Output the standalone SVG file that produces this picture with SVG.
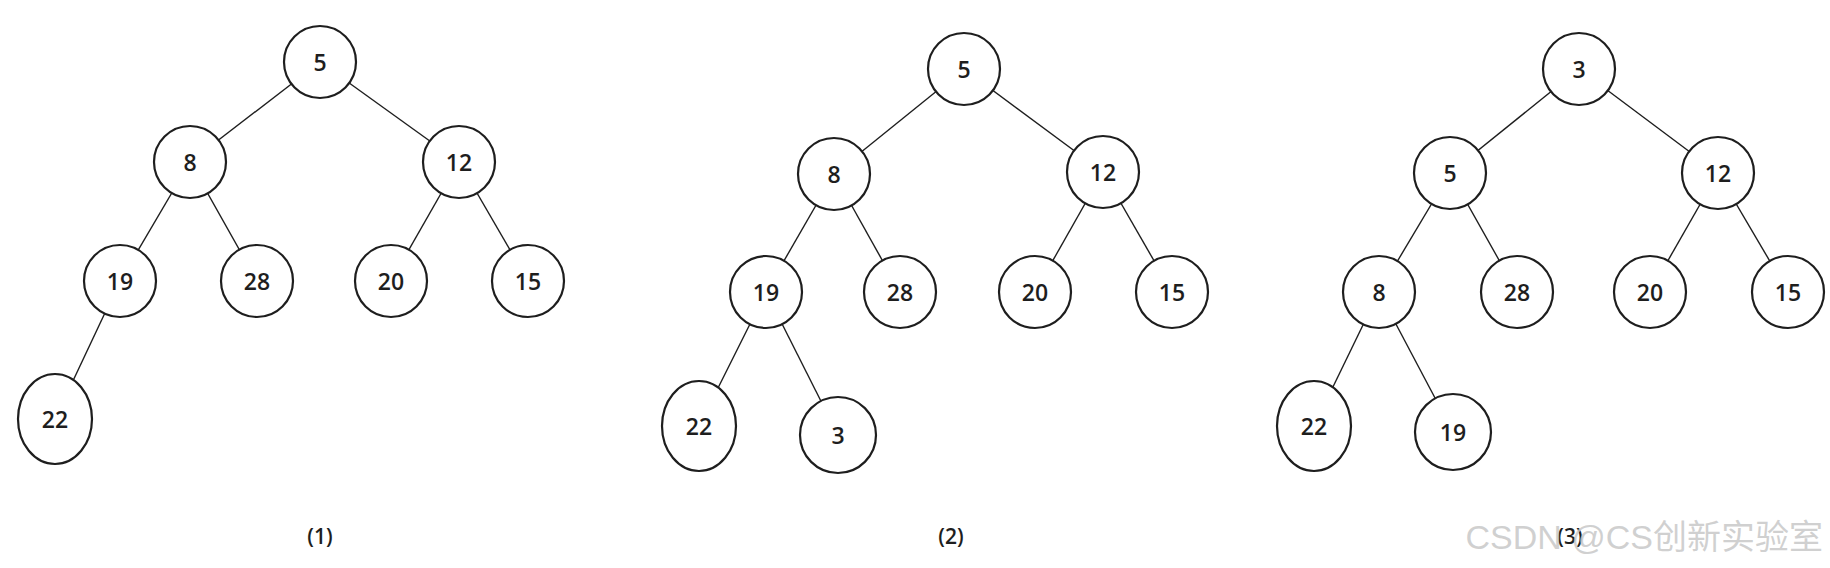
<svg xmlns="http://www.w3.org/2000/svg" width="1830" height="568" viewBox="0 0 1830 568">
<style>
.n circle, .n ellipse { fill: #fff; stroke: #1e1e1e; stroke-width: 2.2; }
.n text { font-family: "Open Sans", "Liberation Sans", sans-serif; font-size: 23px; font-weight: 600; fill: #1e1e1e; text-anchor: middle; dominant-baseline: central; }
.e line { stroke: #1e1e1e; stroke-width: 1.4; }
.cap { font-family: "Open Sans", "Liberation Sans", sans-serif; font-size: 21px; font-weight: 600; fill: #1e1e1e; text-anchor: middle; }
.wm { font-family: "Liberation Sans", "Noto Sans CJK SC", sans-serif; font-size: 34px; fill: #c8c8c8; fill-opacity: 0.85; text-anchor: end; }
</style>
<rect width="1830" height="568" fill="#fff"/>
<g id="connectors" class="e">
  <line x1="320" y1="62" x2="190" y2="162"/>
  <line x1="320" y1="62" x2="459" y2="162"/>
  <line x1="190" y1="162" x2="120" y2="281"/>
  <line x1="190" y1="162" x2="257" y2="281"/>
  <line x1="459" y1="162" x2="391" y2="281"/>
  <line x1="459" y1="162" x2="528" y2="281"/>
  <line x1="120" y1="281" x2="55" y2="419"/>
  <line x1="964" y1="69" x2="834" y2="174"/>
  <line x1="964" y1="69" x2="1103" y2="172"/>
  <line x1="834" y1="174" x2="766" y2="292"/>
  <line x1="834" y1="174" x2="900" y2="292"/>
  <line x1="1103" y1="172" x2="1035" y2="292"/>
  <line x1="1103" y1="172" x2="1172" y2="292"/>
  <line x1="766" y1="292" x2="699" y2="426"/>
  <line x1="766" y1="292" x2="838" y2="435"/>
  <line x1="1579" y1="69" x2="1450" y2="173"/>
  <line x1="1579" y1="69" x2="1718" y2="173"/>
  <line x1="1450" y1="173" x2="1379" y2="292"/>
  <line x1="1450" y1="173" x2="1517" y2="292"/>
  <line x1="1718" y1="173" x2="1650" y2="292"/>
  <line x1="1718" y1="173" x2="1788" y2="292"/>
  <line x1="1379" y1="292" x2="1314" y2="426"/>
  <line x1="1379" y1="292" x2="1453" y2="432"/>
</g>
<g id="p1-n5" class="n"><circle cx="320" cy="62" r="36"/><text x="320" y="62">5</text></g>
<g id="p1-n8" class="n"><circle cx="190" cy="162" r="36"/><text x="190" y="162">8</text></g>
<g id="p1-n12" class="n"><circle cx="459" cy="162" r="36"/><text x="459" y="162">12</text></g>
<g id="p1-n19" class="n"><circle cx="120" cy="281" r="36"/><text x="120" y="281">19</text></g>
<g id="p1-n28" class="n"><circle cx="257" cy="281" r="36"/><text x="257" y="281">28</text></g>
<g id="p1-n20" class="n"><circle cx="391" cy="281" r="36"/><text x="391" y="281">20</text></g>
<g id="p1-n15" class="n"><circle cx="528" cy="281" r="36"/><text x="528" y="281">15</text></g>
<g id="p1-n22" class="n"><ellipse cx="55" cy="419" rx="37" ry="45"/><text x="55" y="419">22</text></g>
<g id="p2-n5" class="n"><circle cx="964" cy="69" r="36"/><text x="964" y="69">5</text></g>
<g id="p2-n8" class="n"><circle cx="834" cy="174" r="36"/><text x="834" y="174">8</text></g>
<g id="p2-n12" class="n"><circle cx="1103" cy="172" r="36"/><text x="1103" y="172">12</text></g>
<g id="p2-n19" class="n"><circle cx="766" cy="292" r="36"/><text x="766" y="292">19</text></g>
<g id="p2-n28" class="n"><circle cx="900" cy="292" r="36"/><text x="900" y="292">28</text></g>
<g id="p2-n20" class="n"><circle cx="1035" cy="292" r="36"/><text x="1035" y="292">20</text></g>
<g id="p2-n15" class="n"><circle cx="1172" cy="292" r="36"/><text x="1172" y="292">15</text></g>
<g id="p2-n22" class="n"><ellipse cx="699" cy="426" rx="37" ry="45"/><text x="699" y="426">22</text></g>
<g id="p2-n3" class="n"><circle cx="838" cy="435" r="38"/><text x="838" y="435">3</text></g>
<g id="p3-n3" class="n"><circle cx="1579" cy="69" r="36"/><text x="1579" y="69">3</text></g>
<g id="p3-n5" class="n"><circle cx="1450" cy="173" r="36"/><text x="1450" y="173">5</text></g>
<g id="p3-n12" class="n"><circle cx="1718" cy="173" r="36"/><text x="1718" y="173">12</text></g>
<g id="p3-n8" class="n"><circle cx="1379" cy="292" r="36"/><text x="1379" y="292">8</text></g>
<g id="p3-n28" class="n"><circle cx="1517" cy="292" r="36"/><text x="1517" y="292">28</text></g>
<g id="p3-n20" class="n"><circle cx="1650" cy="292" r="36"/><text x="1650" y="292">20</text></g>
<g id="p3-n15" class="n"><circle cx="1788" cy="292" r="36"/><text x="1788" y="292">15</text></g>
<g id="p3-n22" class="n"><ellipse cx="1314" cy="426" rx="37" ry="45"/><text x="1314" y="426">22</text></g>
<g id="p3-n19" class="n"><circle cx="1453" cy="432" r="38"/><text x="1453" y="432">19</text></g>
<text class="cap" x="320" y="544">(1)</text>
<text class="cap" x="951" y="544">(2)</text>
<text class="cap" x="1570" y="544">(3)</text>
<text class="wm" x="1823" y="549">CSDN @CS创新实验室</text>
</svg>
